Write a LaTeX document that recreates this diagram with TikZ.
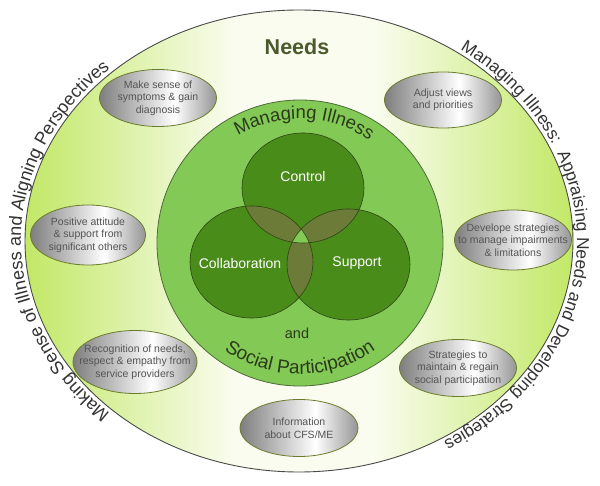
\documentclass[tikz,border=0pt]{standalone}
\usepackage{fontspec}
\setmainfont{Liberation Sans}
\usetikzlibrary{shapes.geometric,decorations.text}

\definecolor{edgegreen}{HTML}{C2E866}
\definecolor{paleC}{HTML}{F9FCEE}
\definecolor{midgreen}{HTML}{82C955}
\definecolor{midborder}{HTML}{4F6B3A}
\definecolor{venngreen}{HTML}{4A8C1A}
\definecolor{vennborder}{HTML}{2E4414}
\definecolor{overlapc}{HTML}{6C7B38}
\definecolor{ellgrayL}{HTML}{7E7E7E}
\definecolor{ellgrayR}{HTML}{959595}
\definecolor{ellborder}{HTML}{6B7D2C}
\definecolor{elltxt}{HTML}{555555}
\definecolor{outline}{HTML}{4A4A4A}
\definecolor{outtxt}{HTML}{333333}
\definecolor{needstxt}{HTML}{4B5A2C}
\definecolor{midtxt}{HTML}{2C3A1C}

\pgfdeclarehorizontalshading{outershade}{100bp}{color(0bp)=(edgegreen); color(25bp)=(edgegreen); color(44bp)=(paleC); color(57bp)=(paleC); color(75bp)=(edgegreen); color(100bp)=(edgegreen)}
\pgfdeclarehorizontalshading{grayshade}{100bp}{color(0bp)=(ellgrayL); color(25bp)=(ellgrayL); color(57bp)=(white); color(75bp)=(ellgrayR); color(100bp)=(ellgrayR)}

\newcommand\myouterfont{\fontsize{18}{18}\selectfont\color{outtxt}}
\newcommand\myrightfont{\fontsize{17.3}{17.3}\selectfont\color{outtxt}}
\newcommand\mymidfont{\fontsize{18.5}{18.5}\selectfont\color{midtxt}}
\newcommand\mylowfont{\fontsize{19}{19}\selectfont\color{midtxt}}

\tikzset{
  grayell/.style={ellipse, draw=ellborder, line width=0.8pt, shading=grayshade, inner sep=0pt},
  elltext/.style={align=center, font=\fontsize{10.5}{12.5}\selectfont, text=elltxt, inner sep=0pt},
  vennfill/.style={fill=venngreen},
  venndraw/.style={draw=vennborder, line width=0.6pt},
  vennlabel/.style={text=white, font=\fontsize{14}{14}\selectfont, inner sep=0pt},
}

\begin{document}
\begin{tikzpicture}[x=1pt,y=1pt]
\useasboundingbox (0,0) rectangle (600,485);

% outer ellipse
\path[shading=outershade, draw=outline, line width=0.9pt] (299,244) ellipse [x radius=274, y radius=231];

% middle circle
\path[fill=midgreen, draw=midborder, line width=0.8pt] (300,242) circle [radius=143];

% Venn
\coordinate (cc) at (303,297);
\coordinate (cl) at (251.5,223);
\coordinate (cs) at (348.5,220.5);
\path[vennfill] (cc) ellipse [x radius=61, y radius=55];
\path[vennfill] (cl) ellipse [x radius=61.5, y radius=56];
\path[vennfill] (cs) ellipse [x radius=61.5, y radius=55.5];
\begin{scope}
  \clip (cc) ellipse [x radius=61, y radius=55];
  \fill[overlapc] (cl) ellipse [x radius=61.5, y radius=56];
  \fill[overlapc] (cs) ellipse [x radius=61.5, y radius=55.5];
\end{scope}
\begin{scope}
  \clip (cl) ellipse [x radius=61.5, y radius=56];
  \fill[overlapc] (cs) ellipse [x radius=61.5, y radius=55.5];
\end{scope}
\begin{scope}
  \clip (cc) ellipse [x radius=61, y radius=55];
  \clip (cl) ellipse [x radius=61.5, y radius=56];
  \fill[midgreen] (cs) ellipse [x radius=61.5, y radius=55.5];
\end{scope}
\path[venndraw] (cc) ellipse [x radius=61, y radius=55];
\path[venndraw] (cl) ellipse [x radius=61.5, y radius=56];
\path[venndraw] (cs) ellipse [x radius=61.5, y radius=55.5];

\node[vennlabel] (lctl) at (303,309) {Control};
\node[vennlabel] (lcol) at (240,222) {Collaboration};
\node[vennlabel] (lsup) at (357,222) {Support};

\node[text=midtxt, font=\fontsize{14.5}{14.5}\selectfont, inner sep=0pt] (and) at (297,152) {and};

% curved middle texts
\path[decorate, decoration={text along path, text align=center,
  text={|\mymidfont|Managing Illness}}]
  (300,242) ++(158:124) arc[start angle=158, end angle=18, radius=124];
\path[decorate, decoration={text along path, text align=center,
  text={|\mylowfont|Social Participation}}]
  (300,242) ++(210:131) arc[start angle=210, end angle=330, radius=131];

% Needs
\node[text=needstxt, font=\fontsize{21.5}{21.5}\selectfont\bfseries, inner sep=0pt] (needs) at (297,438) {Needs};

% outer curved texts
\path[decorate, decoration={text along path, text align=center,
  text={|\myouterfont|Making Sense of Illness and Aligning Perspectives}}]
  (299,244) ++(240:278 and 235) arc[start angle=240, end angle=120, x radius=278, y radius=235];
\path[decorate, decoration={text along path, text align=center,
  text={|\myrightfont|Managing Illness:{\ } Appraising Needs and Developing Strategies}}]
  (299,244) ++(68:278 and 235) arc[start angle=68, end angle=-72, x radius=278, y radius=235];

% gray ellipses
\node[grayell, minimum width=117pt, minimum height=57pt] (e1) at (158,387) {};
\node[elltext] (t1) at (e1) {Make sense of\\symptoms \& gain\\diagnosis};
\node[grayell, minimum width=117pt, minimum height=56pt] (e2) at (443,385) {};
\node[elltext] (t2) at (e2) {Adjust views\\and priorities};
\node[grayell, minimum width=115pt, minimum height=60pt] (e3) at (88,250) {};
\node[elltext] (t3) at (e3) {Positive attitude\\\& support from\\significant others};
\node[grayell, minimum width=117pt, minimum height=60pt] (e4) at (513,245) {};
\node[elltext] (t4) at (e4) {Develope strategies\\to manage impairments\\\& limitations};
\node[grayell, minimum width=124pt, minimum height=63pt] (e5) at (135,123) {};
\node[elltext] (t5) at (e5) {Recognition of needs,\\respect \& empathy from\\service providers};
\node[grayell, minimum width=117pt, minimum height=57pt] (e6) at (458,117) {};
\node[elltext] (t6) at (e6) {Strategies to\\maintain \& regain\\social participation};
\node[grayell, minimum width=118pt, minimum height=57pt] (e7) at (299,57) {};
\node[elltext] (t7) at (e7) {Information\\about CFS/ME};
\end{tikzpicture}
\end{document}
